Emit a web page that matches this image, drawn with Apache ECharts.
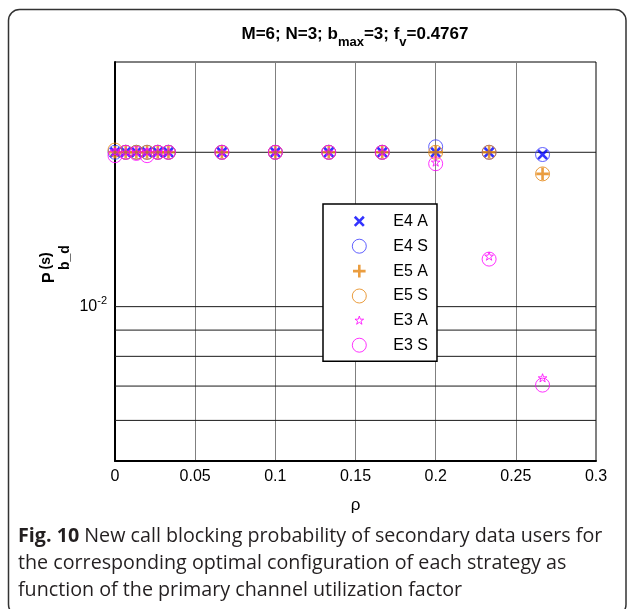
<!DOCTYPE html>
<html>
<head>
<meta charset="utf-8">
<script src="https://cdn.jsdelivr.net/npm/echarts@6/dist/echarts.min.js"></script>
<style>
  html, body { margin: 0; padding: 0; background: #fff; }
  #chart { width: 630px; height: 609px; }
</style>
</head>
<body>
<div id="chart"></div>
<script>
// Primary channel utilization factor (x) and blocking probability per strategy
const rho = [0, 0.00667, 0.01333, 0.02, 0.02667, 0.03333, 0.06667, 0.1, 0.13333, 0.16667, 0.2, 0.23333, 0.26667];
const e4A = [0.0200, 0.0200, 0.0200, 0.0200, 0.0200, 0.0200, 0.0200, 0.0200, 0.0200, 0.0200, 0.0200, 0.0200, 0.0198];
const e4S = [0.0200, 0.0200, 0.0200, 0.0200, 0.0200, 0.0200, 0.0200, 0.0200, 0.0200, 0.0200, 0.0205, 0.0200, 0.0198];
const e5A = [0.0200, 0.0200, 0.0200, 0.0200, 0.0200, 0.0200, 0.0200, 0.0200, 0.0200, 0.0200, 0.0200, 0.0200, 0.01815];
const e5S = [0.0202, 0.0200, 0.0200, 0.0200, 0.0200, 0.0200, 0.0200, 0.0200, 0.0200, 0.0200, 0.0200, 0.0200, 0.01815];
const e3A = [0.0200, 0.0200, 0.0200, 0.0200, 0.0200, 0.0200, 0.0200, 0.0200, 0.0200, 0.0200, 0.0191, 0.01252, 0.00725];
const e3S = [0.0197, 0.0200, 0.0199, 0.0197, 0.0200, 0.0200, 0.0200, 0.0200, 0.0200, 0.0200, 0.0190, 0.01238, 0.00703];

const seriesNames = ['E4 A', 'E4 S', 'E5 A', 'E5 S', 'E3 A', 'E3 S'];
const xRange = [0, 0.3];
const xTickStep = 0.05;
const yRange = [0.005, 0.03];
const yGridLines = [0.006, 0.007, 0.008, 0.009, 0.01, 0.02];

const FONT = '"Liberation Sans", Arial, Helvetica, sans-serif';

// Marker shapes in a 20x20 box (corner moves keep the box size fixed)
const SYM_X = 'path://M0,0M20,20M3.5,3.5L16.5,16.5M16.5,3.5L3.5,16.5';
const SYM_PLUS = 'path://M0,0M20,20M10,1L10,19M1,10L19,10';
const SYM_STAR = 'path://M0,0M20,20M10,3.5L11.47,7.98L16.18,7.99L12.38,10.77L13.82,15.26L10,12.5L6.18,15.26L7.62,10.77L3.82,7.99L8.53,7.98Z';

const BLUE = '#0000ff', BLUE_C = '#3a3aff', ORANGE = '#e5850f', MAGENTA = '#ff00ff';

function scatter(name, values, symbol, color, width) {
  return {
    type: 'scatter',
    name: name,
    data: rho.map((x, i) => [x, values[i]]),
    symbol: symbol,
    symbolSize: 14,
    z: 3,
    itemStyle: { color: 'rgba(0,0,0,0)', borderColor: color, borderWidth: width },
    emphasis: { disabled: true },
    silent: true
  };
}

// Horizontal log-grid lines, one flat line per value across the x range
const gridSeries = yGridLines.map(v => ({
  type: 'line',
  name: 'grid-' + v,
  data: [[xRange[0], v], [xRange[1], v]],
  symbol: 'none',
  silent: true,
  z: 1,
  lineStyle: { color: '#1a1a1a', width: 1 },
  emphasis: { disabled: true }
}));

const series = gridSeries.concat([
  scatter(seriesNames[0], e4A, SYM_X, BLUE, 2.6),
  scatter(seriesNames[1], e4S, 'circle', BLUE_C, 1),
  scatter(seriesNames[2], e5A, SYM_PLUS, ORANGE, 2.6),
  scatter(seriesNames[3], e5S, 'circle', ORANGE, 1),
  scatter(seriesNames[4], e3A, SYM_STAR, MAGENTA, 1),
  scatter(seriesNames[5], e3S, 'circle', MAGENTA, 1)
]);

const legendWidths = [2.6, 1, 2.6, 1, 1, 1];

const chart = echarts.init(document.getElementById('chart'), null, { renderer: 'canvas' });
chart.setOption({
  animation: false,
  backgroundColor: '#fff',
  grid: {
    left: 115, right: 34, top: 62, bottom: 148,
    show: true, borderColor: '#000', borderWidth: 1, backgroundColor: '#fff',
    containLabel: false, outerBoundsMode: 'none'
  },
  xAxis: {
    type: 'value', min: xRange[0], max: xRange[1], interval: xTickStep,
    axisLine: { show: true, onZero: false, lineStyle: { color: '#000', width: 2 } },
    axisTick: { show: false },
    splitLine: { show: true, lineStyle: { color: '#808080', width: 1 } },
    axisLabel: { fontFamily: FONT, fontSize: 16, color: '#000', margin: 8 },
    name: 'ρ', nameLocation: 'middle', nameGap: 36,
    nameTextStyle: { fontFamily: FONT, fontSize: 17, color: '#000' }
  },
  yAxis: {
    type: 'log', logBase: 10, min: yRange[0], max: yRange[1],
    axisLine: { show: true, lineStyle: { color: '#000', width: 2 } },
    axisTick: { show: false },
    splitLine: { show: false },
    axisLabel: {
      fontFamily: FONT, fontSize: 16, color: '#000', margin: 8, lineHeight: 24,
      formatter: v => (Math.abs(Math.log10(v) + 2) < 1e-6 ? '10{sup|-2}' : ''),
      rich: { sup: { fontFamily: FONT, fontSize: 11, color: '#000', verticalAlign: 'top', height: 12, lineHeight: 24 } }
    }
  },
  legend: {
    orient: 'vertical', left: 323, top: 204, z: 10,
    padding: [9, 9, 8, 28],
    itemWidth: 58, itemHeight: 14, itemGap: 8.6,
    backgroundColor: '#fff', borderColor: '#000', borderWidth: 1.5, borderRadius: 0,
    selectedMode: false,
    textStyle: { fontFamily: FONT, fontSize: 16, color: '#000', lineHeight: 14 },
    data: seriesNames.map((n, i) => ({ name: n, itemStyle: { borderWidth: legendWidths[i] } }))
  },
  series: series,
  graphic: [
    {
      type: 'rect', silent: true, z: 100,
      shape: { x: 8.5, y: 9.5, width: 617.5, height: 606, r: 11 },
      style: { fill: 'none', stroke: '#333', lineWidth: 1.5 }
    },
    {
      type: 'text', silent: true, z: 100, x: 355, y: 34.5,
      style: {
        text: '{a|M=6; N=3; b}{s|max}{a|=3; f}{s|v}{a|=0.4767}',
        align: 'center', verticalAlign: 'middle', fill: '#000',
        rich: {
          a: { fontFamily: FONT, fontWeight: 'bold', fontSize: 17, lineHeight: 30, verticalAlign: 'middle', color: '#000' },
          s: { fontFamily: FONT, fontWeight: 'bold', fontSize: 13, lineHeight: 30, height: 14, verticalAlign: 'bottom', color: '#000' }
        }
      }
    },
    {
      type: 'text', silent: true, z: 100, x: 49.4, y: 283, rotation: Math.PI / 2,
      style: { text: 'P', fontFamily: FONT, fontWeight: 'bold', fontSize: 16, align: 'left', verticalAlign: 'middle', fill: '#000' }
    },
    {
      type: 'text', silent: true, z: 100, x: 46, y: 269.5, rotation: Math.PI / 2,
      style: { text: '(s)', fontFamily: FONT, fontWeight: 'bold', fontSize: 14, align: 'left', verticalAlign: 'middle', fill: '#000' }
    },
    {
      type: 'text', silent: true, z: 100, x: 65, y: 270, rotation: Math.PI / 2,
      style: { text: 'b_d', fontFamily: FONT, fontWeight: 'bold', fontSize: 14, align: 'left', verticalAlign: 'middle', fill: '#000' }
    },
    {
      type: 'text', silent: true, z: 100, x: 18, y: 522.5,
      style: {
        text: '{b|Fig. 10} New call blocking probability of secondary data users for\nthe corresponding optimal configuration of each strategy as\nfunction of the primary channel utilization factor',
        fontFamily: '"Open Sans", sans-serif', fontSize: 19.7, lineHeight: 27,
        align: 'left', verticalAlign: 'top', fill: '#231f20',
        rich: { b: { fontFamily: '"Open Sans", sans-serif', fontWeight: 'bold', fontSize: 19.7, lineHeight: 27, color: '#231f20' } }
      }
    }
  ]
});
</script>
</body>
</html>
